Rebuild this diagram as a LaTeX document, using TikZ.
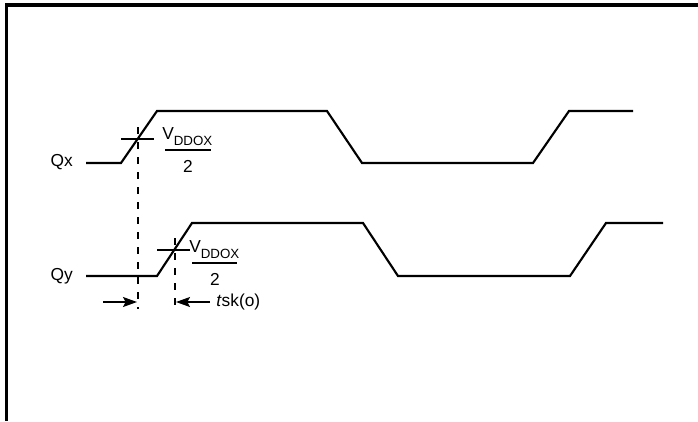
\documentclass[tikz,border=0pt]{standalone}
\usepackage{fontspec}
\setmainfont{Liberation Sans}
\usepackage{tikz}
\usetikzlibrary{arrows.meta}

\tikzset{
  wave/.style={line width=1.6pt, line join=miter},
  guide/.style={line width=0.9pt, dash pattern=on 5.25pt off 6pt},
  skewarrow/.style={line width=0.9pt, -{Stealth[length=10.5pt, width=7.5pt, inset=2pt]}},
  lbl/.style={inner sep=0pt, font=\fontsize{13}{15}\selectfont},
}

\begin{document}
\begin{tikzpicture}[x=0.75pt,y=0.75pt,yscale=-1,xscale=1]
\useasboundingbox (0,0) rectangle (698,421);

%Frame (top and left edge only)
\draw [line width=2.4pt]   (698,5) -- (6.5,5) -- (6.5,421) ;

%Waveform Qx
\draw [wave]   (86,163) -- (121,163) -- (157,111) -- (327,111) -- (362,163) -- (533,163) -- (569,111) -- (633,111) ;
%Waveform Qy
\draw [wave]   (86,276) -- (157,276) -- (192,223) -- (363,223) -- (398,276) -- (570,276) -- (606,223) -- (663,223) ;

%Crossing marks
\draw [line width=1.3pt]   (121,139) -- (154,139) ;
\draw [line width=1.3pt]   (157,250) -- (190,250) ;

%Dashed guides
\draw [guide]   (138,127) -- (138,309) ;
\draw [guide]   (175,238) -- (175,309) ;

% Text Node
\draw (73,166) node [anchor=base east] [lbl] (qxlabel) {Qx};
% Text Node
\draw (73,280.5) node [anchor=base east] [lbl] (qylabel) {Qy};

% Text Node
\draw (162,139) node [anchor=base west] [lbl] (vx) {V\raisebox{-4.8pt}{\fontsize{10}{11}\selectfont DDOX}};
\draw [line width=0.9pt]   (165,150) -- (211,150) ;
\draw (188,166) node [lbl] (twox) {2};

% Text Node
\draw (189,252) node [anchor=base west] [lbl] (vy) {V\raisebox{-4.8pt}{\fontsize{10}{11}\selectfont DDOX}};
\draw [line width=0.9pt]   (192,263) -- (237,263) ;
\draw (215,279) node [lbl] (twoy) {2};

%Skew arrows
\coordinate (skewL) at (137,302) ;
\coordinate (skewLtail) at (103,302) ;
\coordinate (skewR) at (176,302) ;
\draw [skewarrow]   (skewLtail) -- (skewL) ;
% Text Node
\draw (216,302) node [anchor=west] [lbl] (tsk) {\textit{t}sk(o)};
\draw [skewarrow]   (tsk.west) ++(-6,0) -- (skewR) ;

\end{tikzpicture}
\end{document}
